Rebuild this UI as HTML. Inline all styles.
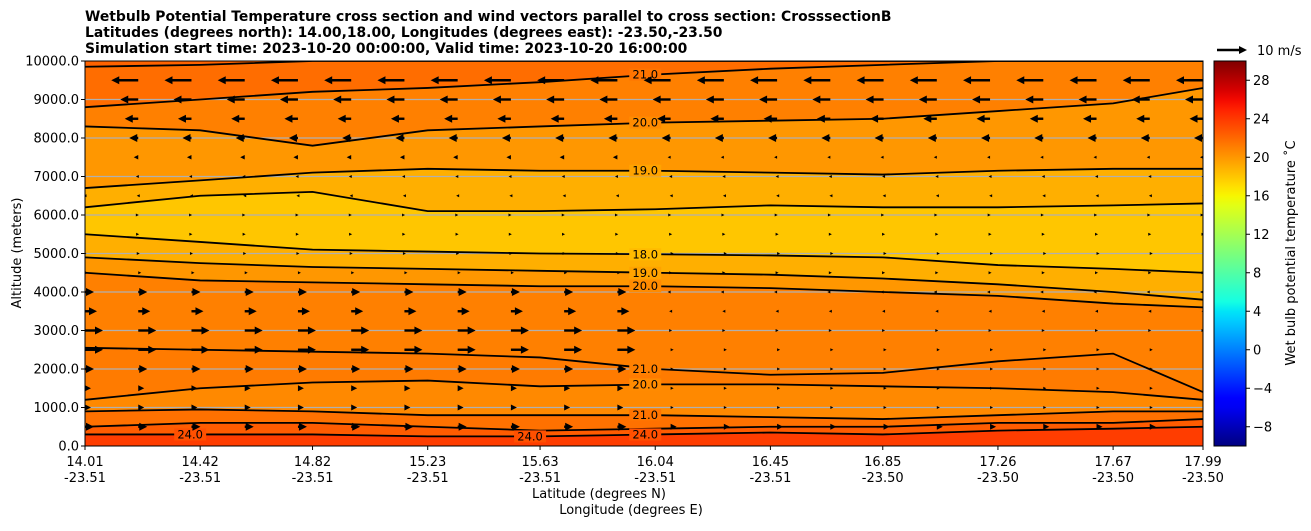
<!DOCTYPE html>
<html><head><meta charset="utf-8">
<style>
body{margin:0;background:#fff;font-family:"Liberation Sans","DejaVu Sans",sans-serif;}
svg text{font-family:"DejaVu Sans","Liberation Sans",sans-serif;}
</style></head>
<body>
<svg id="chart" width="1311" height="526" xmlns="http://www.w3.org/2000/svg">
<defs><clipPath id="pc"><rect x="85" y="61" width="1118" height="385"/></clipPath></defs>
<text x="85" y="21" font-size="13.9" font-weight="bold">Wetbulb Potential Temperature cross section and wind vectors parallel to cross section: CrosssectionB</text>
<text x="85" y="37" font-size="13.9" font-weight="bold">Latitudes (degrees north): 14.00,18.00, Longitudes (degrees east): -23.50,-23.50</text>
<text x="85" y="53" font-size="13.9" font-weight="bold">Simulation start time: 2023-10-20 00:00:00, Valid time: 2023-10-20 16:00:00</text>
<text transform="translate(21,253) rotate(-90)" text-anchor="middle" font-size="13">Altitude (meters)</text>
<text x="599" y="498" text-anchor="middle" font-size="13">Latitude (degrees N)</text>
<text x="631" y="514" text-anchor="middle" font-size="13">Longitude (degrees E)</text>
<g id="plot"></g>
<g id="cbar"></g>
</svg>
<script>
const lats=[14.01,14.42,14.82,15.23,15.63,16.04,16.45,16.85,17.26,17.67,17.99];
const lons=["-23.51","-23.51","-23.51","-23.51","-23.51","-23.51","-23.51","-23.50","-23.50","-23.50","-23.50"];
const yTicks=[0,1000,2000,3000,4000,5000,6000,7000,8000,9000,10000];
// contour lines (altitude m at each lat), top to bottom
const L1=[9850,9900,10000,10000,10000,10000,10000,10000,10000,10000,10000];
const L2=[8800,9000,9200,9300,9450,9650,9800,9900,10000,10000,10000];
const L3=[8300,8200,7800,8200,8300,8400,8450,8500,8700,8900,9300];
const L4=[6700,6900,7100,7200,7150,7150,7100,7050,7150,7200,7200];
const L5=[6200,6500,6600,6100,6100,6150,6250,6200,6200,6250,6300];
const L7=[5500,5300,5100,5050,5000,4980,4950,4900,4700,4600,4500];
const L8=[4900,4750,4650,4600,4550,4500,4450,4350,4200,4000,3800];
const L9=[4500,4300,4250,4200,4150,4150,4100,4000,3900,3700,3600];
const L10=[2550,2500,2450,2400,2300,2000,1850,1900,2200,2400,1400];
const L11=[1200,1500,1650,1700,1550,1600,1600,1550,1500,1400,1200];
const L12=[900,950,900,800,800,800,750,700,800,900,900];
const L13=[500,600,600,500,400,450,500,500,600,600,700];
const L14=[300,300,300,250,250,300,350,300,400,450,500];
const bandValues=[22.2,21.8,21,20,19,18,19,20,21,21.2,20.6,21.6,22.5,23.8];
// wind (m/s, along section) per 500 m level from 500 to 9500
const windLevels=[500,1000,1500,2000,2500,3000,3500,4000,4500,5000,5500,6000,6500,7000,7500,8000,8500,9000,9500];
const uWest=[3,2,2,3,6,6,4,3,1,0.5,0.3,0.2,-0.5,-0.8,-1.5,-3,-4.5,-6,-9];
const uEast=[2,1,1,1,1,0.5,-0.5,-1,0.5,1,0.5,0.2,-0.3,-0.5,-1,-3,-4.5,-6,-9];
const cbTicks=[-8,-4,0,4,8,12,16,20,24,28];

const NS="http://www.w3.org/2000/svg";
const X0=85,X1=1203,Y0=61,Y1=446;
const xS=v=>X0+(v-14.01)/(17.99-14.01)*(X1-X0);
const yS=v=>Y1-v/10000*(Y1-Y0);
function mk(tag,attrs,parent){const e=document.createElementNS(NS,tag);for(const k in attrs)e.setAttribute(k,attrs[k]);parent.appendChild(e);return e;}
function seg(t,pts){for(let i=0;i<pts.length-1;i++){const[a,va]=pts[i],[b,vb]=pts[i+1];if(t>=a&&t<=b)return va+(vb-va)*(t-a)/(b-a);}return pts[pts.length-1][1];}
function jet(v){const t=Math.max(0,Math.min(1,(v+10)/40));
const r=seg(t,[[0,0],[0.35,0],[0.66,1],[0.89,1],[1,0.5]]);
const g=seg(t,[[0,0],[0.125,0],[0.375,1],[0.64,1],[0.91,0],[1,0]]);
const b=seg(t,[[0,0.5],[0.11,1],[0.34,1],[0.65,0],[1,0]]);
return `rgb(${Math.round(r*255)},${Math.round(g*255)},${Math.round(b*255)})`;}
const plot=document.getElementById('plot');
const inner=mk('g',{'clip-path':'url(#pc)'},plot);


const topBound=lats.map(()=>10000),botBound=lats.map(()=>0);
const bounds=[topBound,L1,L2,L3,L4,L5,L7,L8,L9,L10,L11,L12,L13,L14,botBound];
for(let i=0;i<bounds.length-1;i++){
 const up=bounds[i],dn=bounds[i+1];
 let d=lats.map((la,j)=>(j?'L':'M')+xS(la)+','+yS(up[j])).join('');
 for(let j=lats.length-1;j>=0;j--)d+='L'+xS(lats[j])+','+yS(dn[j]);
 const p=mk('path',{d:d+'Z',fill:jet(bandValues[i]),stroke:jet(bandValues[i]),'stroke-width':1},inner);
 
 
}
yTicks.forEach(v=>{if(v>0&&v<10000){const g=mk('line',{x1:X0,x2:X1,y1:yS(v),y2:yS(v),stroke:'#b0b0b0','stroke-width':1.2},inner);

}});
[L1,L2,L3,L4,L5,L7,L8,L9,L10,L11,L12,L13,L14].forEach((L,k)=>{
 const d=lats.map((la,j)=>(j?'L':'M')+xS(la)+','+yS(L[j])).join('');
 const p=mk('path',{d:d,fill:'none',stroke:'#000','stroke-width':1.8},inner);
 
 
});
const labels=[["21.0",16.04,L2,21.5],["20.0",16.04,L3,20.5],["19.0",16.04,L4,19.5],["18.0",16.04,L7,18.5],["19.0",16.04,L8,19.5],["20.0",16.04,L9,20.5],["21.0",16.04,L10,21],["20.0",16.04,L11,20.5],["21.0",16.04,L12,21.5],["24.0",16.04,L14,23],["24.0",14.42,L14,23],["24.0",15.63,L14,23]];
labels.forEach(([t,la,L,bv])=>{const j=lats.indexOf(la);const x=xS(la)-10,y=yS(L[j]);
 const r=mk('rect',{x:x-16,y:y-6,width:32,height:12,fill:jet(bv)},inner);
 
 
 const tx=mk('text',{x:x,y:y+4,'text-anchor':'middle','font-size':11.5},inner);tx.textContent=t;
 
 });
// quiver
const PX=3,ncol=22;
function arrow(x,y,u,parent){
 const len=u*PX,s=Math.sign(u)||1,a=Math.abs(len);
 const hl=Math.min(8,Math.max(3,a)),hw=Math.min(4,Math.max(1.5,a*0.5));
 const tip=x+len;
 if(a>hl) {const l=mk('line',{x1:x,y1:y,x2:tip-s*hl*0.8,y2:y,stroke:'#000','stroke-width':2.4},parent);
  
  }
 const h=mk('polygon',{points:`${tip},${y} ${tip-s*hl},${y-hw} ${tip-s*hl},${y+hw}`,fill:'#000'},parent);
 
 
}
const qg=mk('g',{},inner);
windLevels.forEach((lv,r)=>{for(let c=0;c<ncol;c++){const x=X0+c*(X1-X0)/(ncol-1);const u=c<ncol/2?uWest[r]:uEast[r];arrow(x,yS(lv),u,qg);}});
// axes frame
const fr=mk('rect',{x:X0,y:Y0,width:X1-X0,height:Y1-Y0,fill:'none',stroke:'#000','stroke-width':1},plot);

yTicks.forEach(v=>{const y=yS(v);const l=mk('line',{x1:X0-4,x2:X0,y1:y,y2:y,stroke:'#000'},plot);
 
 const t=mk('text',{x:X0-6,y:y+4.5,'text-anchor':'end','font-size':13},plot);t.textContent=v.toFixed(1);
 });
lats.forEach((la,i)=>{const x=xS(la);const l=mk('line',{x1:x,x2:x,y1:Y1,y2:Y1+4,stroke:'#000'},plot);
 
 const t=mk('text',{x:x,y:466,'text-anchor':'middle','font-size':13},plot);t.textContent=la.toFixed(2);
 
 const t2=mk('text',{x:x,y:482,'text-anchor':'middle','font-size':13},plot);t2.textContent=lons[i];
 });
// quiver key
const kg=mk('g',{},plot);
arrow(1217,50,10,kg);
const kt=mk('text',{x:1257,y:55,'font-size':13},kg);kt.textContent='10 m/s';

// colorbar
const cb=document.getElementById('cbar');
const defs=mk('defs',{},cb);const gr=mk('linearGradient',{id:'jg',x1:0,y1:1,x2:0,y2:0},defs);
for(let i=0;i<=40;i++)mk('stop',{offset:i/40,'stop-color':jet(-10+i)},gr);
const CB0=1214,CB1=1246,cy=v=>Y1-(v+10)/40*(Y1-Y0);
const cr=mk('rect',{x:CB0,y:Y0,width:CB1-CB0,height:Y1-Y0,fill:'url(#jg)',stroke:'#000','stroke-width':1},cb);

cbTicks.forEach(v=>{const y=cy(v);const l=mk('line',{x1:CB1,x2:CB1+4,y1:y,y2:y,stroke:'#000'},cb);
 
 const t=mk('text',{x:CB1+7,y:y+4.5,'font-size':13},cb);t.textContent=(v<0?'\u2212'+(-v):v);
 });
const ct=mk('text',{transform:'translate(1295,253) rotate(-90)','text-anchor':'middle','font-size':13},cb);
ct.textContent='Wet bulb potential temperature \u02DAC';

</script>
</body></html>
